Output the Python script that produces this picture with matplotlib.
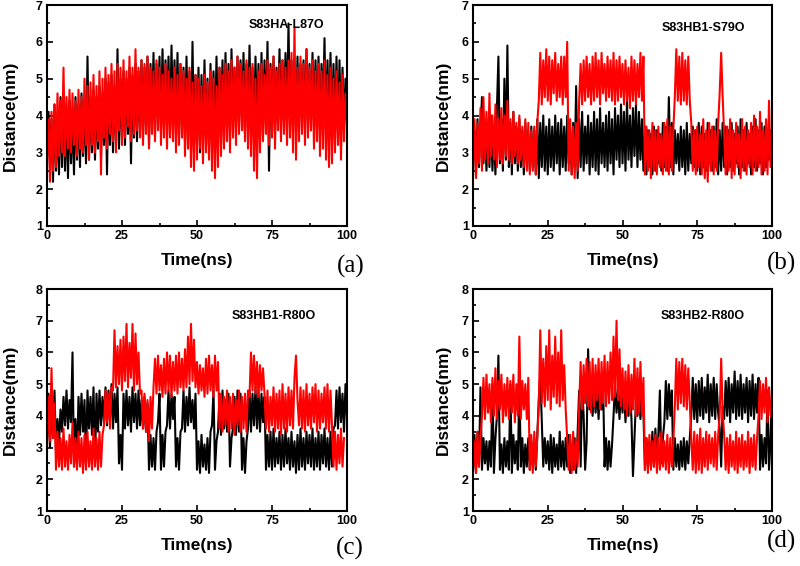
import numpy as np
import matplotlib
matplotlib.use("Agg")
import matplotlib.pyplot as plt
from matplotlib.ticker import MultipleLocator

a_black = [
    3.0, 4.1, 2.6, 3.9, 2.2, 4.3, 2.5, 4.0, 2.4, 4.5,
    2.6, 4.6, 2.5, 4.2, 2.3, 4.4, 2.7, 4.1, 2.4, 4.5,
    2.8, 4.3, 2.6, 4.6, 2.9, 4.4, 2.7, 5.6, 2.8, 4.5,
    3.0, 4.7, 2.8, 4.5, 3.1, 4.8, 2.9, 4.6, 3.2, 5.0,
    2.4, 4.9, 3.2, 5.1, 3.0, 4.8, 3.3, 5.8, 3.1, 5.0,
    3.4, 5.2, 3.2, 5.0, 3.5, 5.3, 2.7, 5.1, 3.4, 5.4,
    3.3, 5.2, 3.6, 5.5, 3.4, 5.3, 3.7, 5.6, 3.2, 5.4,
    3.8, 5.7, 3.5, 5.4, 3.9, 5.6, 3.6, 5.8, 3.7, 5.5,
    3.9, 5.6, 3.5, 5.9, 3.8, 5.5, 3.6, 5.7, 3.4, 5.4,
    3.7, 5.3, 3.3, 5.6, 3.5, 5.2, 3.1, 6.0, 3.4, 5.1,
    3.3, 5.3, 3.0, 5.1, 3.4, 5.5, 3.2, 5.0, 3.1, 5.4,
    3.2, 5.2, 3.4, 5.6, 3.5, 5.3, 3.6, 5.5, 3.3, 5.7,
    3.7, 5.4, 3.5, 5.8, 3.8, 5.3, 3.6, 5.6, 3.9, 5.5,
    3.7, 5.7, 3.5, 5.4, 3.8, 5.9, 3.6, 5.3, 3.4, 5.6,
    3.6, 5.4, 3.3, 5.7, 3.5, 5.5, 3.8, 6.0, 2.5, 5.4,
    3.7, 5.6, 3.5, 5.3, 3.9, 5.8, 3.6, 5.5, 3.8, 5.7,
    4.0, 6.5, 3.7, 5.5, 3.5, 5.3, 3.8, 5.6, 3.6, 5.4,
    3.9, 5.5, 3.7, 5.8, 3.8, 5.4, 3.6, 5.7, 3.9, 5.5,
    3.7, 5.6, 3.5, 5.4, 4.0, 6.1, 3.6, 5.5, 3.8, 5.7,
    3.6, 5.4, 3.5, 5.6, 3.4, 5.5, 3.2, 5.3, 3.7, 5.0, 4.1]
a_red = [
    2.8, 3.9, 2.2, 4.1, 2.5, 4.3, 2.6, 4.6, 2.9, 4.4,
    3.0, 5.3, 2.9, 4.5, 3.1, 4.7, 3.0, 4.6, 3.2, 4.4,
    2.9, 4.7, 3.1, 4.5, 3.0, 5.0, 3.2, 4.8, 2.8, 4.9,
    3.2, 5.1, 3.0, 4.8, 3.3, 5.2, 2.4, 5.0, 3.4, 5.3,
    3.1, 5.1, 3.5, 5.4, 3.3, 5.2, 3.0, 5.4, 3.6, 5.3,
    3.2, 5.5, 3.4, 5.2, 3.7, 5.6, 3.3, 5.3, 3.5, 5.8,
    3.6, 5.3, 3.4, 5.5, 3.2, 5.4, 3.5, 5.6, 3.1, 5.3,
    3.5, 5.2, 3.3, 5.5, 3.6, 5.3, 3.2, 5.1, 3.4, 5.4,
    3.1, 5.2, 3.4, 5.0, 3.3, 5.3, 3.0, 5.1, 3.2, 5.4,
    3.4, 5.2, 2.9, 5.0, 3.1, 5.3, 2.6, 4.9, 2.5, 5.1,
    2.8, 5.0, 3.1, 4.8, 2.7, 5.1, 3.0, 4.9, 2.8, 5.2,
    2.5, 5.0, 2.3, 4.8, 2.6, 5.3, 2.9, 5.1, 3.1, 5.4,
    3.3, 5.2, 3.0, 5.5, 3.4, 5.3, 3.2, 5.6, 3.5, 5.4,
    3.6, 5.2, 3.3, 5.5, 3.1, 5.3, 2.9, 5.4, 2.5, 5.0,
    2.3, 5.2, 3.0, 5.4, 3.3, 5.1, 3.5, 5.5, 3.2, 5.3,
    3.4, 5.6, 3.1, 5.2, 3.6, 5.4, 3.3, 5.5, 3.5, 5.3,
    3.2, 5.5, 3.4, 5.7, 3.0, 6.4, 2.8, 5.3, 3.3, 5.6,
    3.5, 5.4, 3.2, 5.8, 3.4, 5.3, 3.6, 5.5, 3.1, 5.2,
    3.3, 5.4, 2.9, 5.2, 3.1, 5.5, 2.8, 5.1, 2.6, 5.3,
    2.7, 5.0, 3.0, 5.2, 3.2, 4.9, 2.8, 5.1, 3.3, 4.6, 3.8]

b_black = [
    2.8, 3.6, 2.4, 3.9, 2.6, 3.5, 4.5, 2.7, 3.8, 2.5,
    3.7, 2.6, 4.0, 2.5, 3.6, 2.4, 4.2, 5.6, 2.7, 3.9,
    2.5, 5.0, 2.8, 5.9, 2.6, 3.8, 2.4, 4.1, 2.7, 3.7,
    2.5, 3.9, 2.6, 3.6, 2.4, 3.8, 2.7, 3.5, 2.5, 3.7,
    2.6, 3.6, 2.4, 3.9, 2.3, 3.8, 2.6, 4.0, 2.5, 3.7,
    2.4, 3.9, 2.6, 3.7, 2.5, 4.0, 2.7, 3.8, 2.4, 3.9,
    2.6, 3.7, 2.5, 4.0, 2.7, 3.6, 2.4, 3.8, 2.6, 4.8,
    2.3, 3.9, 2.6, 4.1, 2.5, 3.7, 2.7, 4.0, 2.4, 3.8,
    2.6, 4.1, 2.5, 3.9, 2.4, 4.2, 2.7, 3.8, 2.6, 4.0,
    2.5, 4.1, 2.7, 3.9, 2.4, 4.2, 2.8, 4.0, 2.6, 4.3,
    2.7, 4.1, 2.5, 4.4, 2.8, 4.0, 2.6, 4.2, 2.9, 4.3,
    2.6, 4.1, 2.8, 3.9, 2.5, 3.7, 2.4, 3.6, 2.6, 3.5,
    2.4, 3.7, 2.5, 3.6, 2.7, 3.5, 2.5, 3.8, 2.6, 3.7,
    2.5, 4.5, 2.6, 3.8, 2.4, 3.6, 2.7, 3.5, 2.5, 3.7,
    2.6, 3.6, 2.4, 3.8, 2.5, 3.5, 2.7, 3.7, 2.6, 3.6,
    2.5, 3.8, 2.4, 3.7, 2.6, 3.5, 2.5, 3.8, 2.7, 3.6,
    2.5, 3.7, 2.6, 3.9, 2.4, 3.6, 2.5, 3.8, 2.6, 3.7,
    2.4, 3.6, 2.6, 3.8, 2.5, 3.5, 2.7, 3.7, 2.4, 3.9,
    2.6, 3.6, 2.5, 3.8, 2.7, 3.5, 2.4, 3.7, 2.6, 3.9,
    2.5, 3.6, 2.7, 3.8, 2.4, 3.7, 2.6, 3.5, 2.8, 3.6, 2.7]
b_red = [
    2.6, 3.9, 2.3, 3.8, 2.7, 4.2, 2.5, 4.5, 2.8, 4.1,
    2.7, 4.6, 2.9, 4.0, 2.8, 4.3, 2.6, 3.9, 2.8, 4.2,
    2.7, 4.0, 2.9, 4.4, 2.8, 3.9, 2.7, 4.1, 2.9, 3.8,
    2.7, 4.0, 2.8, 3.7, 2.6, 3.9, 2.5, 3.8, 2.4, 3.6,
    2.5, 3.7, 2.4, 3.8, 4.4, 5.7, 4.3, 5.5, 4.5, 5.8,
    4.4, 5.6, 4.3, 5.5, 4.6, 5.7, 4.4, 5.4, 4.5, 5.6,
    4.3, 5.6, 4.5, 6.0, 2.5, 3.9, 2.4, 3.7, 2.3, 3.8,
    2.5, 4.4, 5.4, 4.3, 5.5, 4.4, 5.6, 4.5, 5.4, 4.3,
    5.6, 4.4, 5.7, 4.5, 5.5, 4.3, 5.7, 4.6, 5.4, 4.4,
    5.6, 4.5, 5.5, 4.4, 5.7, 4.3, 5.5, 4.4, 5.6, 4.5,
    5.4, 4.3, 5.5, 4.4, 5.3, 4.2, 5.6, 4.4, 5.5, 4.3,
    5.4, 4.5, 5.7, 4.4, 5.6, 2.4, 3.7, 2.5, 3.6, 2.3,
    3.8, 2.5, 3.6, 2.4, 3.7, 2.6, 3.5, 2.4, 3.8, 2.5,
    3.9, 2.4, 3.7, 2.5, 3.6, 4.5, 5.8, 4.4, 5.6, 4.3,
    5.7, 4.4, 5.5, 4.3, 5.6, 4.4, 3.8, 2.5, 3.6, 2.4,
    3.7, 2.6, 3.5, 2.4, 3.9, 2.3, 3.6, 2.2, 3.8, 2.5,
    3.7, 2.4, 3.6, 2.5, 3.8, 4.6, 5.7, 4.5, 3.5, 2.4,
    3.7, 2.5, 3.9, 2.3, 3.6, 2.4, 3.8, 2.6, 3.5, 2.3,
    3.9, 2.5, 3.7, 2.4, 3.6, 2.6, 3.8, 2.4, 4.0, 2.5,
    3.7, 2.6, 4.1, 2.4, 3.6, 2.5, 3.9, 2.4, 4.4, 2.6, 3.6]

c_black = [
    3.2, 4.7, 3.0, 4.5, 3.3, 4.8, 2.9, 3.9, 3.1, 4.2,
    3.5, 4.6, 3.7, 4.8, 3.6, 4.5, 3.8, 6.0, 2.4, 3.9,
    2.5, 4.6, 3.4, 4.7, 3.5, 4.5, 2.6, 4.8, 3.6, 4.6,
    3.4, 4.9, 2.5, 4.7, 3.5, 4.8, 3.7, 4.6, 3.8, 4.9,
    3.7, 4.8, 3.9, 5.0, 3.6, 4.7, 3.8, 4.9, 2.5, 3.4,
    2.3, 4.7, 3.6, 4.8, 3.7, 4.6, 3.5, 4.9, 3.8, 4.7,
    3.6, 4.8, 3.7, 4.5, 3.6, 4.6, 3.5, 4.4, 2.3, 3.4,
    2.4, 3.3, 2.3, 3.5, 3.8, 4.7, 2.3, 3.4, 2.4, 3.5,
    3.7, 4.8, 3.6, 4.7, 3.9, 4.6, 2.4, 3.3, 2.3, 3.5,
    3.6, 4.8, 3.5, 4.6, 3.7, 4.9, 3.8, 4.5, 3.6, 4.7,
    2.3, 3.2, 2.2, 3.4, 2.4, 3.1, 2.3, 3.3, 2.2, 3.5,
    3.7, 4.8, 2.3, 3.2, 3.5, 4.7, 3.4, 4.8, 3.6, 4.5,
    3.5, 4.7, 2.4, 3.3, 3.6, 4.6, 3.4, 4.8, 3.5, 4.7,
    2.3, 3.3, 2.2, 3.2, 3.6, 4.8, 3.5, 4.7, 3.7, 4.9,
    3.6, 4.8, 3.5, 4.7, 3.8, 4.6, 2.3, 3.4, 2.4, 3.5,
    2.3, 3.6, 2.4, 3.3, 2.5, 3.5, 2.3, 3.4, 2.4, 3.6,
    2.5, 3.3, 2.3, 3.5, 2.4, 3.2, 2.2, 3.4, 2.3, 3.6,
    2.4, 3.3, 2.3, 3.5, 2.5, 3.4, 2.4, 3.6, 2.3, 3.3,
    2.4, 3.5, 2.3, 3.4, 2.5, 3.6, 2.4, 3.3, 2.3, 3.5,
    2.4, 3.6, 3.7, 4.8, 3.6, 4.9, 3.8, 4.7, 3.5, 5.0, 3.9]
c_red = [
    3.0, 4.6, 3.2, 5.5, 3.3, 4.4, 2.3, 3.5, 2.4, 3.3,
    2.3, 3.6, 2.4, 3.2, 2.3, 3.4, 2.5, 3.8, 2.4, 3.3,
    2.3, 3.5, 2.4, 3.3, 2.2, 3.4, 2.3, 3.5, 2.4, 3.2,
    2.3, 3.6, 2.4, 3.3, 2.3, 3.5, 2.4, 3.4, 3.7, 4.8,
    3.8, 4.7, 3.6, 4.9, 4.8, 6.7, 4.9, 6.2, 5.0, 6.4,
    4.8, 6.5, 5.1, 6.9, 4.9, 6.3, 5.2, 6.9, 4.8, 6.6,
    5.0, 6.0, 4.7, 4.8, 3.6, 4.7, 3.5, 4.5, 3.2, 4.6,
    3.6, 4.9, 5.8, 4.7, 5.9, 4.8, 5.6, 4.6, 5.8, 4.7,
    6.0, 4.8, 5.9, 4.6, 5.7, 4.8, 5.9, 4.7, 6.0, 4.9,
    5.8, 4.8, 6.1, 4.9, 6.5, 5.0, 6.9, 5.1, 6.4, 4.9,
    5.7, 4.7, 5.6, 4.8, 5.5, 4.6, 5.8, 4.7, 5.9, 4.8,
    5.6, 4.6, 5.9, 4.8, 5.7, 3.6, 4.7, 3.5, 4.6, 3.7,
    4.8, 3.5, 4.6, 3.6, 4.7, 3.4, 4.5, 3.7, 4.8, 3.5,
    4.6, 3.6, 4.7, 3.5, 4.8, 4.6, 6.0, 4.8, 5.9, 4.7,
    5.7, 4.6, 5.6, 4.8, 5.5, 4.7, 3.6, 4.8, 3.5, 4.6,
    3.7, 4.9, 3.5, 4.7, 3.6, 4.8, 3.4, 5.0, 3.6, 4.7,
    3.5, 4.9, 3.7, 4.8, 3.6, 5.2, 5.9, 4.5, 3.7, 4.9,
    3.6, 4.8, 3.5, 5.0, 3.7, 4.7, 3.6, 4.9, 3.8, 5.0,
    3.5, 4.8, 3.6, 4.7, 3.8, 4.9, 3.6, 5.0, 3.5, 4.8,
    3.7, 2.4, 3.5, 2.3, 3.4, 2.5, 3.6, 2.4, 3.3]

d_black = [
    2.3, 3.4, 2.2, 3.5, 2.4, 4.9, 2.3, 3.3, 2.5, 3.2,
    2.3, 3.2, 2.4, 5.0, 2.2, 3.3, 4.0, 5.9, 2.3, 3.1,
    2.2, 3.3, 2.4, 3.2, 2.3, 5.0, 2.2, 3.4, 2.5, 3.2,
    2.3, 5.1, 2.4, 3.3, 2.2, 3.1, 2.4, 3.3, 2.3, 3.2,
    2.4, 3.3, 2.3, 3.4, 4.5, 5.3, 3.9, 2.4, 3.3, 2.5,
    3.2, 2.3, 3.4, 2.2, 3.3, 2.4, 3.1, 2.3, 3.5, 2.4,
    3.2, 2.3, 3.3, 2.4, 3.4, 2.2, 3.1, 2.3, 3.3, 2.2,
    3.5, 4.8, 2.4, 5.0, 4.0, 2.3, 3.2, 6.1, 4.2, 5.1,
    4.0, 5.0, 4.1, 4.9, 3.9, 5.0, 4.2, 5.1, 2.4, 3.3,
    2.3, 3.2, 2.4, 3.1, 4.0, 5.0, 4.1, 4.8, 3.9, 5.0,
    4.1, 4.9, 3.8, 4.7, 4.0, 4.8, 3.9, 2.1, 3.3, 4.5,
    4.0, 4.8, 3.9, 5.0, 4.1, 2.3, 3.3, 2.4, 3.2, 2.5,
    3.5, 2.4, 3.6, 2.5, 3.4, 4.8, 2.5, 3.3, 3.8, 5.1,
    3.9, 5.0, 4.0, 4.8, 2.3, 3.3, 2.4, 3.1, 2.3, 3.2,
    2.4, 3.3, 2.3, 3.2, 2.5, 3.3, 4.0, 5.2, 3.9, 5.0,
    3.8, 5.1, 4.0, 5.2, 3.9, 4.9, 4.1, 5.3, 3.8, 5.0,
    4.0, 5.2, 3.9, 5.0, 4.1, 3.6, 2.4, 4.3, 3.9, 5.1,
    4.0, 5.2, 3.8, 5.0, 4.1, 5.4, 3.9, 5.1, 4.0, 5.3,
    3.9, 5.0, 4.1, 5.2, 3.8, 5.1, 4.0, 5.3, 3.9, 5.0,
    4.1, 5.2, 2.3, 3.4, 2.4, 3.3, 2.5, 4.8, 2.3, 3.2, 4.9]
d_red = [
    2.3, 3.2, 2.2, 3.5, 2.4, 3.3, 4.0, 5.2, 3.9, 5.3,
    4.1, 5.0, 3.8, 5.2, 4.0, 5.5, 3.9, 5.1, 4.2, 5.3,
    3.8, 5.0, 4.0, 5.2, 3.9, 5.1, 4.1, 5.3, 3.8, 5.0,
    4.0, 6.5, 3.9, 5.1, 4.2, 5.0, 3.9, 5.2, 2.3, 3.4,
    2.2, 3.5, 2.4, 3.3, 4.3, 6.7, 4.4, 5.8, 4.3, 6.2,
    4.5, 6.7, 4.2, 5.9, 4.6, 6.5, 4.4, 6.0, 4.3, 6.7,
    4.5, 5.6, 4.2, 3.3, 2.3, 3.4, 2.2, 3.5, 2.3, 3.2,
    2.4, 4.3, 5.7, 4.2, 5.6, 4.4, 5.8, 4.3, 5.7, 4.1,
    5.8, 4.3, 5.6, 4.5, 5.8, 4.2, 5.7, 4.4, 5.9, 4.3,
    5.7, 4.4, 6.0, 4.5, 6.5, 4.6, 7.0, 4.5, 6.1, 4.3,
    5.5, 4.2, 5.4, 4.0, 5.6, 4.1, 5.3, 4.2, 5.8, 4.0,
    5.5, 4.1, 5.7, 4.0, 5.2, 2.3, 3.3, 2.2, 3.4, 2.3,
    3.2, 2.4, 3.4, 2.2, 3.3, 2.3, 3.5, 2.4, 3.2, 2.3,
    3.4, 2.2, 3.3, 2.4, 3.2, 4.3, 5.8, 4.2, 5.7, 4.4,
    5.8, 4.3, 5.6, 4.2, 5.5, 4.4, 3.3, 2.3, 3.5, 2.2,
    3.4, 2.3, 3.6, 2.2, 3.3, 2.4, 3.5, 2.3, 3.4, 2.5,
    3.3, 2.4, 3.5, 2.3, 3.4, 4.0, 5.8, 4.1, 3.4, 2.3,
    3.3, 2.2, 3.4, 2.4, 3.2, 2.3, 3.5, 2.2, 3.3, 2.4,
    3.4, 2.3, 3.2, 2.4, 3.5, 2.2, 3.3, 2.4, 3.4, 2.3,
    3.3, 4.0, 5.1, 3.9, 5.0, 4.1, 5.2, 3.8, 4.9, 4.0, 4.6]

time_step = 0.5  # ns
titles = ["S83HA-L87O", "S83HB1-S79O", "S83HB1-R80O", "S83HB2-R80O"]
panel_tags = ["(a)", "(b)", "(c)", "(d)"]
y_limits = [(1, 7), (1, 7), (1, 8), (1, 8)]
x_ticks = [0, 25, 50, 75, 100]

series = [(a_black, a_red), (b_black, b_red), (c_black, c_red), (d_black, d_red)]

# ---------------- figure ----------------
W, H = 800, 566
fig = plt.figure(figsize=(W / 100, H / 100), dpi=100)
plt.rcParams['font.family'] = ['Liberation Sans', 'DejaVu Sans']

# axes boxes in pixels: (left, top, right, bottom)
boxes = [(47, 5, 347, 226), (473, 5, 772, 226), (47, 289, 347, 511), (473, 289, 772, 511)]
title_pos = [(67.3, 6.46), (63.2, 6.38), (61.7, 7.15), (62.9, 7.15)]
tag_pos = [(351, 266), (781, 263), (350, 548), (782, 541)]
ylabel_pad = [13, 8, 13, 8]

for i, ((blk, red), box) in enumerate(zip(series, boxes)):
    l, t, r, b = box
    ax = fig.add_axes([l / W, 1 - b / H, (r - l) / W, (b - t) / H])
    tb = np.arange(len(blk)) * time_step
    tr = np.arange(len(red)) * time_step
    ax.plot(tb, blk, color='black', lw=1.5, solid_joinstyle='round')
    ax.plot(tr, red, color='red', lw=1.5, solid_joinstyle='round')
    ax.set_xlim(0, 100)
    ax.set_ylim(*y_limits[i])
    ax.set_xticks(x_ticks)
    ax.xaxis.set_minor_locator(MultipleLocator(12.5))
    ax.yaxis.set_major_locator(MultipleLocator(1))
    ax.yaxis.set_minor_locator(MultipleLocator(0.5))
    ax.tick_params(which='both', direction='in', width=1.2)
    ax.tick_params(which='major', length=4, labelsize=9, pad=3)
    ax.tick_params(which='minor', length=2.5)
    for lab in ax.get_xticklabels() + ax.get_yticklabels():
        lab.set_fontweight('bold')
    for sp in ax.spines.values():
        sp.set_linewidth(1.5)
        sp.set_zorder(3)
    ax.set_xlabel("Time(ns)", fontsize=12.5, fontweight='bold', labelpad=8)
    ax.set_ylabel("Distance(nm)", fontsize=12.5, fontweight='bold', labelpad=ylabel_pad[i])
    ax.text(title_pos[i][0], title_pos[i][1], titles[i], fontsize=9, fontweight='bold',
            ha='left', va='center', zorder=4)
    fig.text(tag_pos[i][0] / W, 1 - tag_pos[i][1] / H, panel_tags[i],
             family=['Liberation Serif', 'DejaVu Serif'], fontsize=18,
             ha='center', va='center')

fig.savefig("out.png", dpi=100)
